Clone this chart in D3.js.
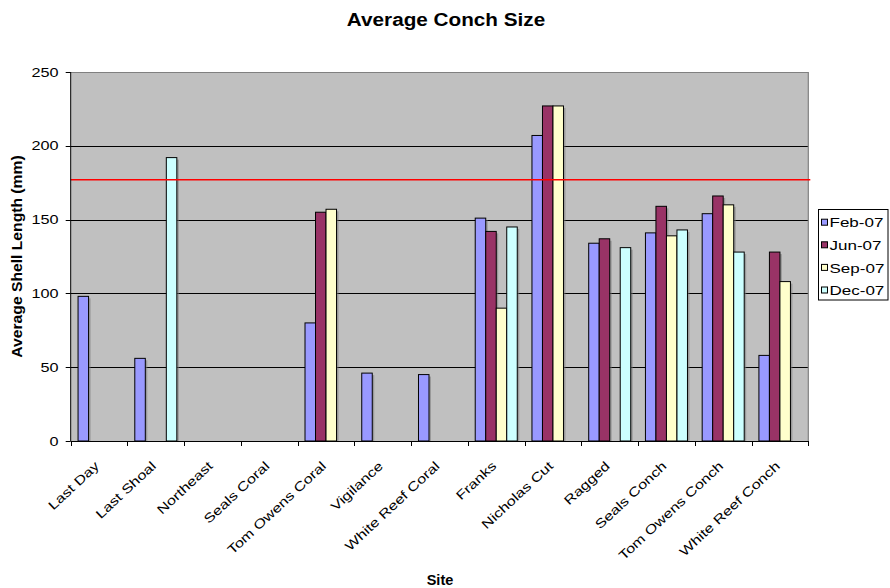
<!DOCTYPE html>
<html>
<head>
<meta charset="utf-8">
<script src="https://cdn.jsdelivr.net/npm/d3@7"></script>
<style>
  html, body { margin: 0; padding: 0; background: #fff; }
  svg { display: block; font-family: Arial, "Liberation Sans", sans-serif; }
</style>
</head>
<body>
<svg id="chart" width="890" height="588"></svg>
<script>
// Average shell length per survey site, four survey months
const sites = ["Last Day", "Last Shoal", "Northeast", "Seals Coral", "Tom Owens Coral",
  "Vigilance", "White Reef Coral", "Franks", "Nicholas Cut", "Ragged",
  "Seals Conch", "Tom Owens Conch", "White Reef Conch"];
const seriesNames = ["Feb-07", "Jun-07", "Sep-07", "Dec-07"];
const feb07 = [98, 56, null, null, 80, 46, 45, 151, 207, 134, 141, 154, 58];
const jun07 = [null, null, null, null, 155, null, null, 142, 227, 137, 159, 166, 128];
const sep07 = [null, null, null, null, 157, null, null, 90, 227, null, 139, 160, 108];
const dec07 = [null, 192, null, null, null, null, null, 145, null, 131, 143, 128, null];
const yTicks = [0, 50, 100, 150, 200, 250];
const referenceLength = 177;   // red reference line (mm)

const seriesValues = [feb07, jun07, sep07, dec07];
const colors = ["#9999FF", "#993366", "#FFFFCC", "#CCFFFF"];

const svg = d3.select("#chart");
const plot = { left: 70.7, right: 808.3, top: 72, bottom: 441 };

const x0 = d3.scaleBand().domain(sites).range([plot.left, plot.right]).padding(0);
const x1 = d3.scaleBand().domain(seriesNames).range([0, x0.bandwidth()])
  .paddingInner(0).paddingOuter(0.7);
const y = d3.scaleLinear().domain([0, 250]).range([plot.bottom, plot.top]);

// plot background
svg.append("rect")
  .attr("x", plot.left).attr("y", plot.top)
  .attr("width", plot.right - plot.left).attr("height", plot.bottom - plot.top)
  .attr("fill", "#C0C0C0");

// horizontal gridlines
svg.append("g").selectAll("line")
  .data(yTicks.filter(t => t > 0 && t < 250))
  .join("line")
  .attr("x1", plot.left).attr("x2", plot.right)
  .attr("y1", d => Math.round(y(d)) + 0.5).attr("y2", d => Math.round(y(d)) + 0.5)
  .attr("stroke", "#000").attr("stroke-width", 1);

// plot border (top and right)
svg.append("path")
  .attr("d", `M${plot.left},${plot.top + 0.5}H${plot.right}V${plot.bottom}`)
  .attr("fill", "none").attr("stroke", "#808080").attr("stroke-width", 1.2);

// bars
svg.append("clipPath").attr("id", "plotclip").append("rect")
  .attr("x", plot.left).attr("y", plot.top)
  .attr("width", plot.right - plot.left).attr("height", plot.bottom - plot.top);

const barData = [];
sites.forEach((s, i) => {
  seriesNames.forEach((n, k) => {
    const v = seriesValues[k][i];
    if (v != null) barData.push({ site: s, series: n, k, value: v });
  });
});

const barsG = svg.append("g").attr("clip-path", "url(#plotclip)");
// soft drop shadow behind each bar
barsG.selectAll("rect.shadow").data(barData).join("rect")
  .attr("class", "shadow")
  .attr("x", d => x0(d.site) + x1(d.series) + 2)
  .attr("y", d => y(d.value) + 2)
  .attr("width", x1.bandwidth())
  .attr("height", d => plot.bottom - y(d.value))
  .attr("fill", "#7a7a7a").attr("opacity", 0.55);

barsG.selectAll("rect.bar").data(barData).join("rect")
  .attr("class", "bar")
  .attr("x", d => x0(d.site) + x1(d.series))
  .attr("y", d => y(d.value))
  .attr("width", x1.bandwidth())
  .attr("height", d => plot.bottom - y(d.value))
  .attr("fill", d => colors[d.k])
  .attr("stroke", "#000").attr("stroke-width", 1);

// reference line
svg.append("line")
  .attr("x1", plot.left).attr("x2", plot.right + 2)
  .attr("y1", y(referenceLength)).attr("y2", y(referenceLength))
  .attr("stroke", "#FF0000").attr("stroke-width", 1.3);

// y axis
const yAxis = svg.append("g");
yAxis.append("line")
  .attr("x1", plot.left).attr("x2", plot.left)
  .attr("y1", plot.top).attr("y2", plot.bottom)
  .attr("stroke", "#000");
yAxis.selectAll("line.tick").data(yTicks).join("line")
  .attr("class", "tick")
  .attr("x1", plot.left - 5).attr("x2", plot.left)
  .attr("y1", d => Math.round(y(d)) + 0.5).attr("y2", d => Math.round(y(d)) + 0.5)
  .attr("stroke", "#000");
yAxis.selectAll("text").data(yTicks).join("text")
  .attr("transform", d => `translate(58.5,${y(d) + 4.6}) scale(1.27,1)`)
  .attr("text-anchor", "end")
  .attr("font-size", 12.8)
  .attr("fill", "#000")
  .text(d => d);

// x axis
const xAxis = svg.append("g");
xAxis.append("line")
  .attr("x1", plot.left).attr("x2", plot.right)
  .attr("y1", plot.bottom + 0.5).attr("y2", plot.bottom + 0.5)
  .attr("stroke", "#000");
const boundaries = sites.map(s => x0(s)).concat([plot.right]);
xAxis.selectAll("line.tick").data(boundaries).join("line")
  .attr("class", "tick")
  .attr("x1", d => Math.round(d) + 0.5).attr("x2", d => Math.round(d) + 0.5)
  .attr("y1", plot.bottom).attr("y2", plot.bottom + 5)
  .attr("stroke", "#000");
xAxis.selectAll("text").data(sites).join("text")
  .attr("transform", d => `translate(${x0(d) + x0.bandwidth() / 2 + 1},${plot.bottom + 26}) rotate(-43) scale(1.27,1)`)
  .attr("text-anchor", "end")
  .attr("font-size", 12.8)
  .attr("fill", "#000")
  .text(d => d);

// titles
svg.append("text")
  .attr("transform", "translate(446,26) scale(1.12,1)")
  .attr("text-anchor", "middle")
  .attr("font-size", 18.5).attr("font-weight", "bold")
  .text("Average Conch Size");

svg.append("text")
  .attr("transform", `translate(22,${(plot.top + plot.bottom) / 2}) rotate(-90) scale(1.12,1)`)
  .attr("text-anchor", "middle")
  .attr("font-size", 14).attr("font-weight", "bold")
  .text("Average Shell Length (mm)");

svg.append("text")
  .attr("x", 440).attr("y", 585)
  .attr("text-anchor", "middle")
  .attr("font-size", 14.5).attr("font-weight", "bold")
  .text("Site");

// legend
const legend = svg.append("g");
legend.append("rect")
  .attr("x", 818.5).attr("y", 209.5).attr("width", 69.5).attr("height", 90.5)
  .attr("fill", "#fff").attr("stroke", "#000").attr("stroke-width", 1);
const items = legend.selectAll("g.item").data(seriesNames).join("g")
  .attr("class", "item")
  .attr("transform", (d, i) => `translate(0,${222.7 + i * 22.6})`);
items.append("rect")
  .attr("x", 821.5).attr("y", -3.5).attr("width", 6).attr("height", 6)
  .attr("fill", (d, i) => colors[i]).attr("stroke", "#000").attr("stroke-width", 1);
items.append("text")
  .attr("transform", "translate(829.5,4.6) scale(1.33,1)")
  .attr("font-size", 12.8)
  .text(d => d);
</script>
</body>
</html>
